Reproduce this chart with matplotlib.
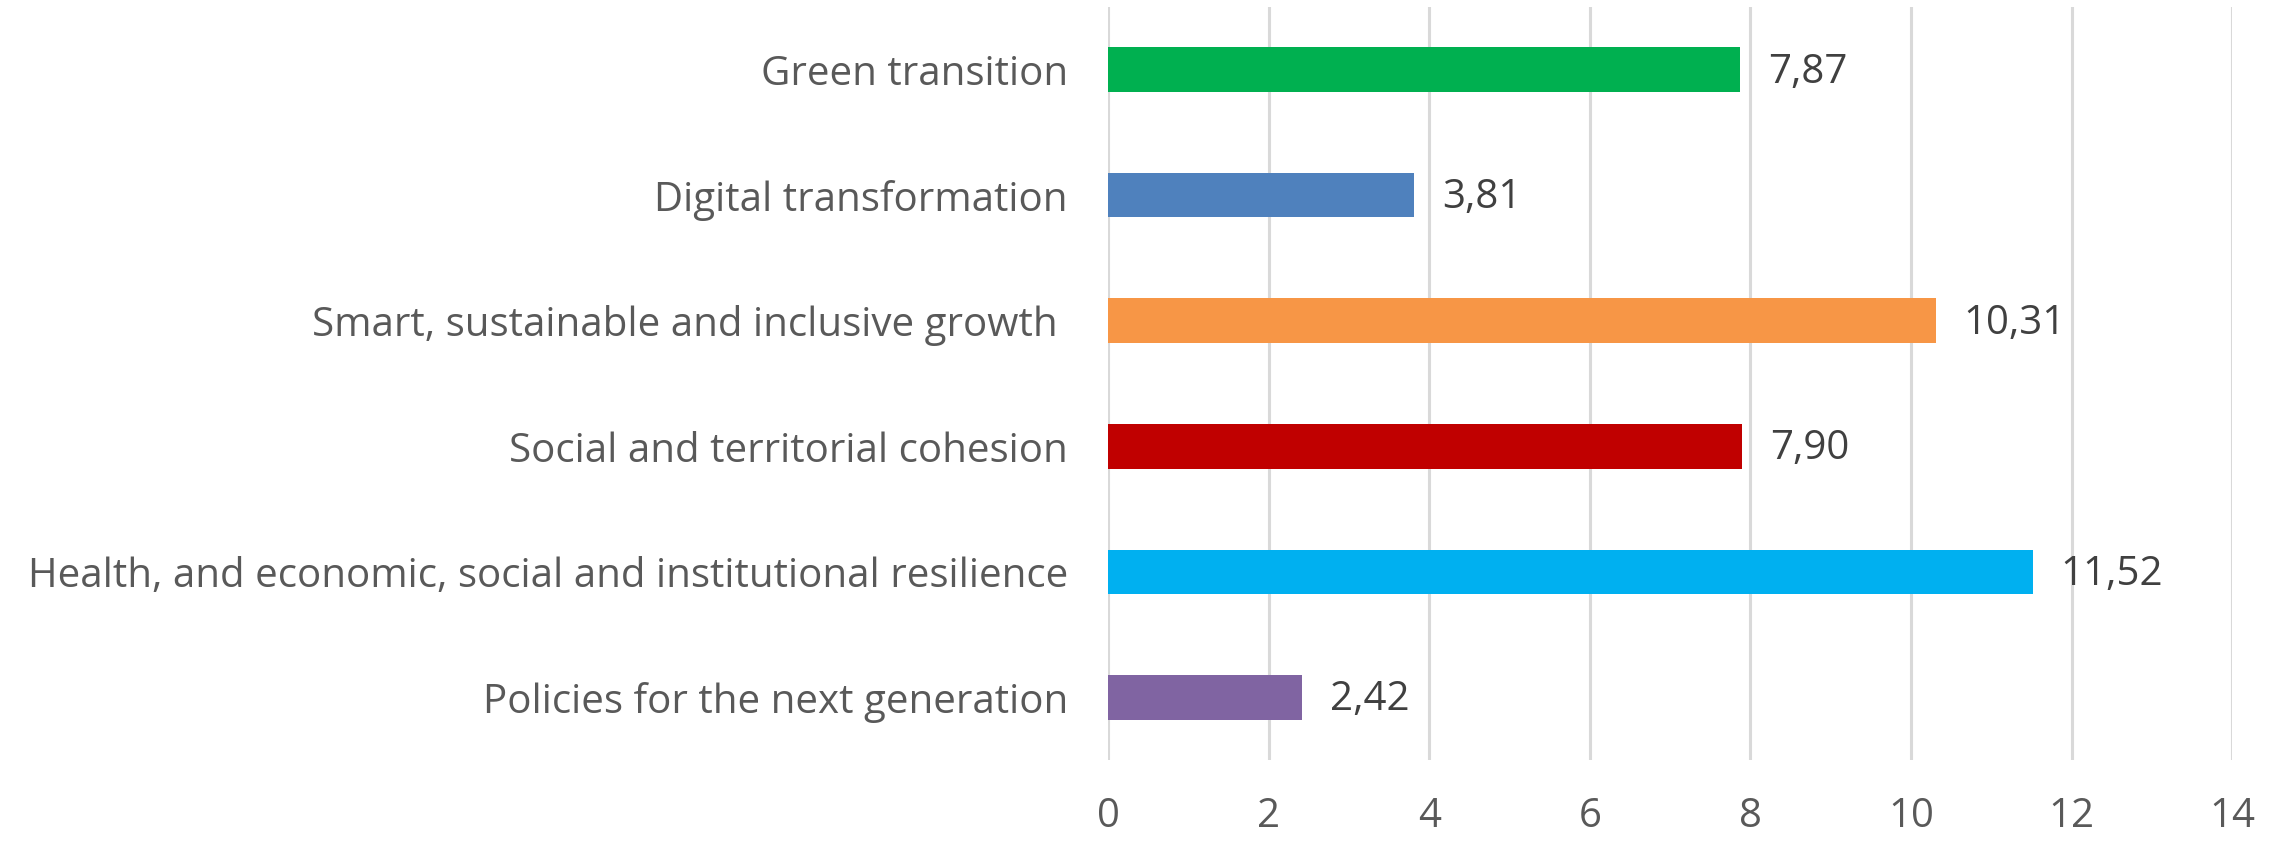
import matplotlib
matplotlib.use("Agg")
import matplotlib.pyplot as plt

categories = [
    "Green transition",
    "Digital transformation",
    "Smart, sustainable and inclusive growth ",
    "Social and territorial cohesion",
    "Health, and economic, social and institutional resilience",
    "Policies for the next generation",
]
values = [7.87, 3.81, 10.31, 7.90, 11.52, 2.42]
value_labels = ["7,87", "3,81", "10,31", "7,90", "11,52", "2,42"]
colors = ["#00B050", "#4F81BD", "#F79646", "#C00000", "#00B0F0", "#8064A2"]
xticks = [0, 2, 4, 6, 8, 10, 12, 14]

plt.rcParams['font.family'] = ['Open Sans', 'DejaVu Sans']

fig = plt.figure(figsize=(22.8, 8.41), dpi=100)
ax = fig.add_axes([0.486, 0.096, 0.493, 0.896])

ypos = list(range(len(categories)))[::-1]
bars = ax.barh(ypos, values, height=0.355, color=colors, zorder=3)
ax.set_ylim(-0.5, 5.5)
ax.set_xlim(0, 14)
ax.set_xticks(xticks)
ax.set_xticklabels([str(t) for t in xticks])
ax.set_yticks(ypos)
ax.set_yticklabels(categories)
ax.grid(axis='x', color='#D9D9D9', linewidth=2.2, zorder=0)
for s in ax.spines.values():
    s.set_visible(False)
ax.tick_params(axis='y', length=0, pad=29, labelsize=29, labelcolor='#595959')
ax.tick_params(axis='x', length=0, pad=26, labelsize=29, labelcolor='#595959')

for b, lab in zip(bars, value_labels):
    ax.annotate(lab, xy=(b.get_width(), b.get_y() + b.get_height() / 2),
                xytext=(20, -2), textcoords='offset points',
                va='center', ha='left', fontsize=29, color='#404040')

fig.savefig("out.png", dpi=100, facecolor='white')
